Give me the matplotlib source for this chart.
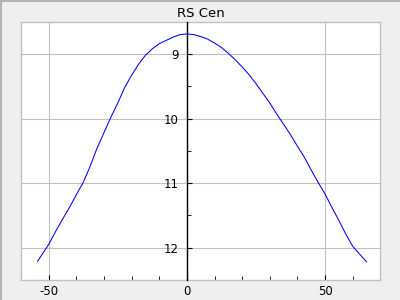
import matplotlib
matplotlib.use("Agg")
import matplotlib.pyplot as plt
from matplotlib.lines import Line2D
from matplotlib.ticker import MultipleLocator

# phase (days) and magnitude
phase = [-54, -52, -50, -47.5, -45, -42.5, -40, -37.5, -35, -32.5, -30, -27.5,
         -25, -22.5, -20, -17.5, -15, -12.5, -10, -7.5, -5, -2.5, 0, 2.5, 5,
         7.5, 10, 12.5, 15, 17.5, 20, 22.5, 25, 27.5, 30, 32.5, 35, 37.5, 40,
         42.5, 45, 47.5, 50, 52.5, 55, 57.5, 60, 62.5, 65]
mag = [12.21, 12.08, 11.95, 11.75, 11.56, 11.38, 11.18, 10.99, 10.74, 10.46,
       10.22, 9.98, 9.76, 9.52, 9.33, 9.16, 9.02, 8.92, 8.84, 8.79, 8.74, 8.70,
       8.69, 8.70, 8.73, 8.77, 8.83, 8.90, 8.99, 9.09, 9.20, 9.32, 9.46, 9.61,
       9.76, 9.93, 10.09, 10.25, 10.43, 10.60, 10.80, 10.99, 11.17, 11.38,
       11.58, 11.79, 11.98, 12.10, 12.22]

x_ticks = [-50, 0, 50]
y_ticks = [9, 10, 11, 12]
title = "RS Cen"

grey = "#c0c0c0"

fig = plt.figure(figsize=(4, 3), dpi=100, facecolor="#efefef")
ax = fig.add_axes([0.0525, 0.0667, 0.8985, 0.861])
ax.set_facecolor("white")

ax.plot(phase, mag, color="#0000ff", lw=0.75, zorder=3)

ax.set_xlim(-60, 70)
ax.set_ylim(12.5, 8.5)
ax.set_xticks(x_ticks)
ax.set_yticks(y_ticks)
ax.set_xticklabels([str(t) for t in x_ticks])
ax.set_yticklabels([str(t) for t in y_ticks])
ax.xaxis.set_minor_locator(MultipleLocator(10))
ax.yaxis.set_minor_locator(MultipleLocator(0.5))
ax.grid(True, which="major", color=grey, lw=0.8, zorder=0)
ax.set_axisbelow(True)

for s in ["top", "right", "bottom"]:
    ax.spines[s].set_color(grey)
    ax.spines[s].set_linewidth(1.0)
ax.spines["left"].set_position(("data", 0))
ax.spines["left"].set_color("black")
ax.spines["left"].set_linewidth(1.0)
ax.spines["left"].set_zorder(5)
# grey frame edge on the left side
ax.add_line(Line2D([0, 0], [0, 1], transform=ax.transAxes, color=grey, lw=1.0,
                   clip_on=False, zorder=4))

ax.tick_params(axis="x", which="both", direction="in", color="black",
               labelsize=8.5, pad=3.5)
ax.tick_params(axis="x", which="major", length=3.4)
ax.tick_params(axis="x", which="minor", length=3.0)
ax.tick_params(axis="y", which="both", direction="in", color="black",
               labelsize=8.5, pad=6)
ax.tick_params(axis="y", which="major", length=3.8)
ax.tick_params(axis="y", which="minor", length=3.0)

ax.set_title(title, fontsize=9.5, pad=3.5)

# window border on top and left
fig.add_artist(Line2D([0, 1], [0.998, 0.998], transform=fig.transFigure,
                      color="#b4b4b4", lw=1.5))
fig.add_artist(Line2D([0.002, 0.002], [0, 1], transform=fig.transFigure,
                      color="#b4b4b4", lw=1.5))

fig.savefig("out.png", dpi=100, facecolor=fig.get_facecolor())
